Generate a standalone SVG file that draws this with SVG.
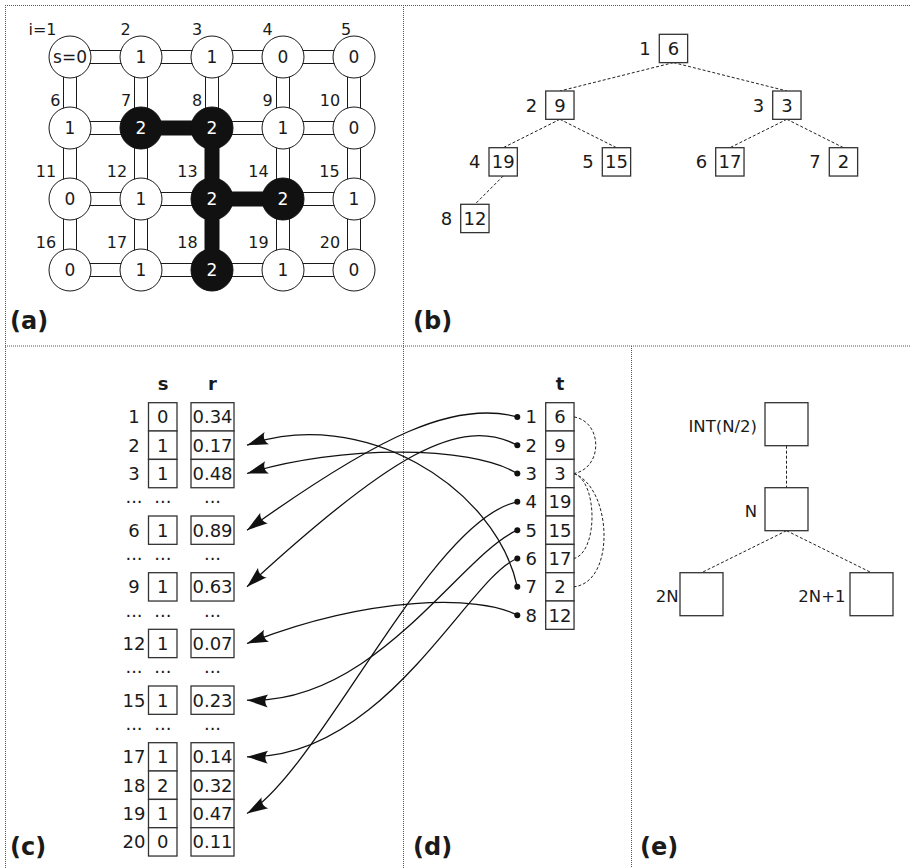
<svg xmlns="http://www.w3.org/2000/svg" width="911" height="868" viewBox="0 0 911 868">
<style>
text{font-family:"DejaVu Sans","Noto Sans",sans-serif;fill:#1a1a1a}
.lbl{font-size:16px;text-anchor:middle}
.ct{font-size:17px;text-anchor:middle}
.w{fill:#fff}
.t18{font-size:18px;text-anchor:middle}
.hd{font-size:18px;font-weight:bold;text-anchor:middle}
.pl{font-size:24px;font-weight:bold}
.e{font-size:16.5px;text-anchor:end}
.border{stroke:#555;stroke-width:1;stroke-dasharray:1 1;fill:none}
.pipeo{stroke:#1a1a1a;stroke-width:14;fill:none}
.pipei{stroke:#fff;stroke-width:12;fill:none}
.band{stroke:#111;stroke-width:15;fill:none}
.cw{fill:#fff;stroke:#1a1a1a;stroke-width:1}
.cb{fill:#111;stroke:#111;stroke-width:1}
.box{fill:#fff;stroke:#333;stroke-width:1.3}
.dash{stroke:#222;stroke-width:1;stroke-dasharray:3 2;fill:none}
.arr{stroke:#111;stroke-width:1.3;fill:none;marker-end:url(#ah)}
.dot{fill:#111}
</style>
<defs>
<marker id="ah" markerUnits="userSpaceOnUse" viewBox="-23 -8 25 16" refX="0" refY="0" markerWidth="25" markerHeight="16" orient="auto">
<path d="M0,0 L-21,-6.5 C-17.5,-2.8 -17.5,2.8 -21,6.5 Z" fill="#111"/>
</marker>
</defs>
<rect width="911" height="868" fill="#fff"/>
<g id="panel-borders">
<path class="border" d="M5,5.5H911 M5.5,5V868 M403.5,5V868 M5,346H911 M631.5,346V868"/>
</g>
<g id="panel-labels">
<text class="pl" x="10" y="328.5">(a)</text>
<text class="pl" x="413" y="328.5">(b)</text>
<text class="pl" x="10" y="855">(c)</text>
<text class="pl" x="413" y="855">(d)</text>
<text class="pl" x="640" y="855">(e)</text>
</g>
<g id="grid-connectors">
<path class="pipeo" d="M70,57H354 M70,128H141 M212,128H354 M70,199H212 M283,199H354 M70,270H354 M70,57V270 M141,57V270 M212,57V128 M283,57V270 M354,57V270"/>
<path class="pipei" d="M70,57H354 M70,128H141 M212,128H354 M70,199H212 M283,199H354 M70,270H354 M70,57V270 M141,57V270 M212,57V128 M283,57V270 M354,57V270"/>
<path class="band" d="M141,128H212 M212,128V270 M212,199H283"/>
</g>
<g id="grid-labels">
<text class="lbl" x="42.5" y="34.5">i=1</text><text class="lbl" x="125.5" y="34.5">2</text><text class="lbl" x="197" y="34.5">3</text><text class="lbl" x="267.5" y="34.5">4</text><text class="lbl" x="346" y="34.5">5</text>
<text class="lbl" x="55.3" y="106">6</text><text class="lbl" x="126" y="106">7</text><text class="lbl" x="197" y="106">8</text><text class="lbl" x="267.5" y="106">9</text><text class="lbl" x="330" y="106">10</text>
<text class="lbl" x="46" y="177">11</text><text class="lbl" x="117" y="177">12</text><text class="lbl" x="187.5" y="177">13</text><text class="lbl" x="258.5" y="177">14</text><text class="lbl" x="329.5" y="177">15</text>
<text class="lbl" x="46" y="247.5">16</text><text class="lbl" x="117" y="247.5">17</text><text class="lbl" x="187.5" y="247.5">18</text><text class="lbl" x="258.5" y="247.5">19</text><text class="lbl" x="330" y="247.5">20</text>
</g>
<g id="cell-1"><circle class="cw" cx="70" cy="57" r="21"/><text class="ct" x="70" y="63">s=0</text></g>
<g id="cell-2"><circle class="cw" cx="141" cy="57" r="21"/><text class="ct" x="141" y="63">1</text></g>
<g id="cell-3"><circle class="cw" cx="212" cy="57" r="21"/><text class="ct" x="212" y="63">1</text></g>
<g id="cell-4"><circle class="cw" cx="283" cy="57" r="21"/><text class="ct" x="283" y="63">0</text></g>
<g id="cell-5"><circle class="cw" cx="354" cy="57" r="21"/><text class="ct" x="354" y="63">0</text></g>
<g id="cell-6"><circle class="cw" cx="70" cy="128" r="21"/><text class="ct" x="70" y="134">1</text></g>
<g id="cell-7"><circle class="cb" cx="141" cy="128" r="21"/><text class="ct w" x="141" y="134">2</text></g>
<g id="cell-8"><circle class="cb" cx="212" cy="128" r="21"/><text class="ct w" x="212" y="134">2</text></g>
<g id="cell-9"><circle class="cw" cx="283" cy="128" r="21"/><text class="ct" x="283" y="134">1</text></g>
<g id="cell-10"><circle class="cw" cx="354" cy="128" r="21"/><text class="ct" x="354" y="134">0</text></g>
<g id="cell-11"><circle class="cw" cx="70" cy="199" r="21"/><text class="ct" x="70" y="205">0</text></g>
<g id="cell-12"><circle class="cw" cx="141" cy="199" r="21"/><text class="ct" x="141" y="205">1</text></g>
<g id="cell-13"><circle class="cb" cx="212" cy="199" r="21"/><text class="ct w" x="212" y="205">2</text></g>
<g id="cell-14"><circle class="cb" cx="283" cy="199" r="21"/><text class="ct w" x="283" y="205">2</text></g>
<g id="cell-15"><circle class="cw" cx="354" cy="199" r="21"/><text class="ct" x="354" y="205">1</text></g>
<g id="cell-16"><circle class="cw" cx="70" cy="270" r="21"/><text class="ct" x="70" y="276">0</text></g>
<g id="cell-17"><circle class="cw" cx="141" cy="270" r="21"/><text class="ct" x="141" y="276">1</text></g>
<g id="cell-18"><circle class="cb" cx="212" cy="270" r="21"/><text class="ct w" x="212" y="276">2</text></g>
<g id="cell-19"><circle class="cw" cx="283" cy="270" r="21"/><text class="ct" x="283" y="276">1</text></g>
<g id="cell-20"><circle class="cw" cx="354" cy="270" r="21"/><text class="ct" x="354" y="276">0</text></g>

<g id="heap-connectors">
<path class="dash" d="M673.5,62.6L559.9,91 M673.5,62.6L786.9,91 M559.9,119.3L503.2,147.7 M559.9,119.3L616.5,147.7 M786.9,119.3L729.9,147.7 M786.9,119.3L843.5,147.7 M503.2,176L474.9,204.3"/>
</g>
<g id="heap-1"><rect class="box" x="659.3" y="34.3" width="28.33" height="28.33"/><text class="t18" x="673.5" y="55">6</text><text class="t18" x="645" y="55">1</text></g>
<g id="heap-2"><rect class="box" x="545.7" y="91" width="28.33" height="28.33"/><text class="t18" x="559.9" y="111.7">9</text><text class="t18" x="531.5" y="111.7">2</text></g>
<g id="heap-3"><rect class="box" x="772.7" y="91" width="28.33" height="28.33"/><text class="t18" x="786.9" y="111.7">3</text><text class="t18" x="758.5" y="111.7">3</text></g>
<g id="heap-4"><rect class="box" x="489" y="147.7" width="28.33" height="28.33"/><text class="t18" x="503.2" y="168.4">19</text><text class="t18" x="474.8" y="168.4">4</text></g>
<g id="heap-5"><rect class="box" x="602.3" y="147.7" width="28.33" height="28.33"/><text class="t18" x="616.5" y="168.4">15</text><text class="t18" x="588.1" y="168.4">5</text></g>
<g id="heap-6"><rect class="box" x="715.7" y="147.7" width="28.33" height="28.33"/><text class="t18" x="729.9" y="168.4">17</text><text class="t18" x="701.5" y="168.4">6</text></g>
<g id="heap-7"><rect class="box" x="829.3" y="147.7" width="28.33" height="28.33"/><text class="t18" x="843.5" y="168.4">2</text><text class="t18" x="815.1" y="168.4">7</text></g>
<g id="heap-8"><rect class="box" x="460.7" y="204.3" width="28.33" height="28.33"/><text class="t18" x="474.9" y="225">12</text><text class="t18" x="446.5" y="225">8</text></g>

<g id="array-headers">
<text class="hd" x="163" y="390">s</text>
<text class="hd" x="212.5" y="390">r</text>
<text class="hd" x="560" y="390">t</text>
</g>
<g id="array-sr">
<g id="row-1"><text class="t18" x="134" y="423.4">1</text><rect class="box" x="148.5" y="402.7" width="28.5" height="28.33"/><text class="t18" x="162.8" y="423.4">0</text><rect class="box" x="191" y="402.7" width="43" height="28.33"/><text class="t18" x="212.5" y="423.4">0.34</text></g>
<g id="row-2"><text class="t18" x="134" y="451.7">2</text><rect class="box" x="148.5" y="431" width="28.5" height="28.33"/><text class="t18" x="162.8" y="451.7">1</text><rect class="box" x="191" y="431" width="43" height="28.33"/><text class="t18" x="212.5" y="451.7">0.17</text></g>
<g id="row-3"><text class="t18" x="134" y="480">3</text><rect class="box" x="148.5" y="459.4" width="28.5" height="28.33"/><text class="t18" x="162.8" y="480">1</text><rect class="box" x="191" y="459.4" width="43" height="28.33"/><text class="t18" x="212.5" y="480">0.48</text></g>
<g id="gap-1"><text class="t18" x="134" y="503.3">...</text><text class="t18" x="162.8" y="503.3">...</text><text class="t18" x="212.5" y="503.3">...</text></g>
<g id="row-6"><text class="t18" x="134" y="536.7">6</text><rect class="box" x="148.5" y="516" width="28.5" height="28.33"/><text class="t18" x="162.8" y="536.7">1</text><rect class="box" x="191" y="516" width="43" height="28.33"/><text class="t18" x="212.5" y="536.7">0.89</text></g>
<g id="gap-2"><text class="t18" x="134" y="560">...</text><text class="t18" x="162.8" y="560">...</text><text class="t18" x="212.5" y="560">...</text></g>
<g id="row-9"><text class="t18" x="134" y="593.3">9</text><rect class="box" x="148.5" y="572.7" width="28.5" height="28.33"/><text class="t18" x="162.8" y="593.3">1</text><rect class="box" x="191" y="572.7" width="43" height="28.33"/><text class="t18" x="212.5" y="593.3">0.63</text></g>
<g id="gap-3"><text class="t18" x="134" y="616.7">...</text><text class="t18" x="162.8" y="616.7">...</text><text class="t18" x="212.5" y="616.7">...</text></g>
<g id="row-12"><text class="t18" x="134" y="650">12</text><rect class="box" x="148.5" y="629.3" width="28.5" height="28.33"/><text class="t18" x="162.8" y="650">1</text><rect class="box" x="191" y="629.3" width="43" height="28.33"/><text class="t18" x="212.5" y="650">0.07</text></g>
<g id="gap-4"><text class="t18" x="134" y="673.3">...</text><text class="t18" x="162.8" y="673.3">...</text><text class="t18" x="212.5" y="673.3">...</text></g>
<g id="row-15"><text class="t18" x="134" y="706.7">15</text><rect class="box" x="148.5" y="686" width="28.5" height="28.33"/><text class="t18" x="162.8" y="706.7">1</text><rect class="box" x="191" y="686" width="43" height="28.33"/><text class="t18" x="212.5" y="706.7">0.23</text></g>
<g id="gap-5"><text class="t18" x="134" y="730">...</text><text class="t18" x="162.8" y="730">...</text><text class="t18" x="212.5" y="730">...</text></g>
<g id="row-17"><text class="t18" x="134" y="763.3">17</text><rect class="box" x="148.5" y="742.7" width="28.5" height="28.33"/><text class="t18" x="162.8" y="763.3">1</text><rect class="box" x="191" y="742.7" width="43" height="28.33"/><text class="t18" x="212.5" y="763.3">0.14</text></g>
<g id="row-18"><text class="t18" x="134" y="791.7">18</text><rect class="box" x="148.5" y="771" width="28.5" height="28.33"/><text class="t18" x="162.8" y="791.7">2</text><rect class="box" x="191" y="771" width="43" height="28.33"/><text class="t18" x="212.5" y="791.7">0.32</text></g>
<g id="row-19"><text class="t18" x="134" y="820">19</text><rect class="box" x="148.5" y="799.4" width="28.5" height="28.33"/><text class="t18" x="162.8" y="820">1</text><rect class="box" x="191" y="799.4" width="43" height="28.33"/><text class="t18" x="212.5" y="820">0.47</text></g>
<g id="row-20"><text class="t18" x="134" y="848.3">20</text><rect class="box" x="148.5" y="827.7" width="28.5" height="28.33"/><text class="t18" x="162.8" y="848.3">0</text><rect class="box" x="191" y="827.7" width="43" height="28.33"/><text class="t18" x="212.5" y="848.3">0.11</text></g>
</g>
<g id="array-t">
<g id="t-1"><text class="t18" x="531.3" y="423.4">1</text><rect class="box" x="545.7" y="402.7" width="28.33" height="28.33"/><text class="t18" x="559.9" y="423.4">6</text></g>
<g id="t-2"><text class="t18" x="531.3" y="451.7">2</text><rect class="box" x="545.7" y="431" width="28.33" height="28.33"/><text class="t18" x="559.9" y="451.7">9</text></g>
<g id="t-3"><text class="t18" x="531.3" y="480">3</text><rect class="box" x="545.7" y="459.4" width="28.33" height="28.33"/><text class="t18" x="559.9" y="480">3</text></g>
<g id="t-4"><text class="t18" x="531.3" y="508.4">4</text><rect class="box" x="545.7" y="487.7" width="28.33" height="28.33"/><text class="t18" x="559.9" y="508.4">19</text></g>
<g id="t-5"><text class="t18" x="531.3" y="536.7">5</text><rect class="box" x="545.7" y="516" width="28.33" height="28.33"/><text class="t18" x="559.9" y="536.7">15</text></g>
<g id="t-6"><text class="t18" x="531.3" y="565">6</text><rect class="box" x="545.7" y="544.4" width="28.33" height="28.33"/><text class="t18" x="559.9" y="565">17</text></g>
<g id="t-7"><text class="t18" x="531.3" y="593.3">7</text><rect class="box" x="545.7" y="572.7" width="28.33" height="28.33"/><text class="t18" x="559.9" y="593.3">2</text></g>
<g id="t-8"><text class="t18" x="531.3" y="621.7">8</text><rect class="box" x="545.7" y="601" width="28.33" height="28.33"/><text class="t18" x="559.9" y="621.7">12</text></g>
</g>
<g id="t-tree-links">
<path class="dash" d="M574,416.9 C603,422 603,468 574,473.5"/>
<path class="dash" d="M574,473.5 C598,482 598,552 574,558.5"/>
<path class="dash" d="M574,473.5 C612,488 616,582 574,586.8"/>
</g>
<g id="pointers">
<path class="arr" d="M517.3,416.9 C455,400 380,435 247,530.2"/>
<path class="arr" d="M517.3,445.2 C460,415 390,455 247,586.8"/>
<path class="arr" d="M517.3,473.5 C470,445 340,445 247,473.5"/>
<path class="arr" d="M517.3,501.8 C430,520 320,770 247,813.5"/>
<path class="arr" d="M517.3,530.2 C460,555 375,705 247,700.2"/>
<path class="arr" d="M517.3,558.5 C470,575 385,760 247,756.8"/>
<path class="arr" d="M517.3,586.8 C495,485 360,405 247,445.2"/>
<path class="arr" d="M517.3,615.2 C480,595 370,595 247,643.5"/>
<circle class="dot" cx="517.3" cy="416.9" r="3"/>
<circle class="dot" cx="517.3" cy="445.2" r="3"/>
<circle class="dot" cx="517.3" cy="473.5" r="3"/>
<circle class="dot" cx="517.3" cy="501.8" r="3"/>
<circle class="dot" cx="517.3" cy="530.2" r="3"/>
<circle class="dot" cx="517.3" cy="558.5" r="3"/>
<circle class="dot" cx="517.3" cy="586.8" r="3"/>
<circle class="dot" cx="517.3" cy="615.2" r="3"/>
</g>
<g id="scheme-connectors">
<path class="dash" d="M786.5,445.7V487.7 M786.5,530.7L701.5,572.7 M786.5,530.7L871.5,572.7"/>
</g>
<g id="scheme-parent"><rect class="box" x="765" y="402.7" width="43" height="43"/><text class="e" x="757" y="432">INT(N/2)</text></g>
<g id="scheme-n"><rect class="box" x="765" y="487.7" width="43" height="43"/><text class="e" x="757" y="517">N</text></g>
<g id="scheme-left"><rect class="box" x="680" y="572.7" width="43" height="43"/><text class="e" x="678.5" y="602">2N</text></g>
<g id="scheme-right"><rect class="box" x="850" y="572.7" width="43" height="43"/><text class="e" x="845.5" y="602">2N+1</text></g>
</svg>
